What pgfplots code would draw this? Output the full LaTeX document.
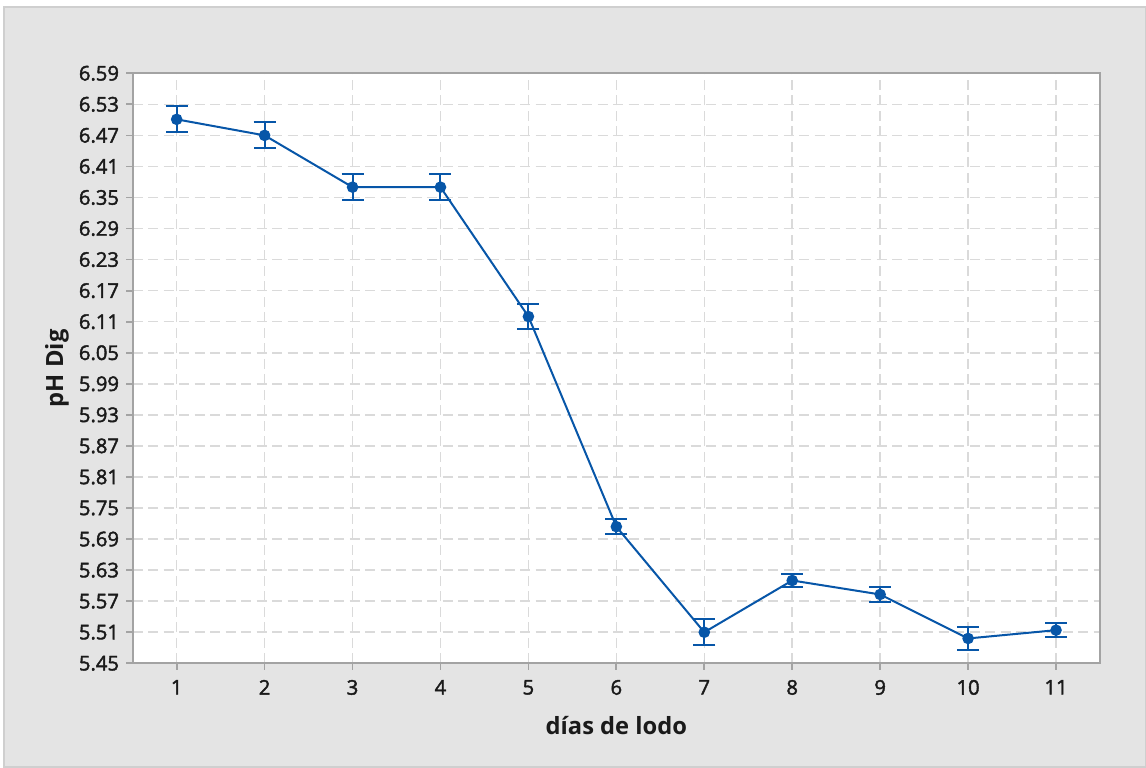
\documentclass[border=0pt]{standalone}
\usepackage{fontspec}
\setmainfont{Open Sans}
\newfontfamily\tickfont{Open Sans}[FakeBold=2]
\usepackage{pgfplots}
\pgfplotsset{compat=1.18}
\definecolor{panel}{HTML}{E4E4E4}
\definecolor{panelrim}{HTML}{CFCFCF}
\definecolor{frame}{HTML}{A3A3A3}
\definecolor{gridc}{HTML}{DADADA}
\definecolor{mtblue}{HTML}{0756A8}
\definecolor{ink}{HTML}{1A1A1A}

% day, mean pH, half-width of interval
\pgfplotstableread{
x  y      e
1  6.501  0.025
2  6.470  0.025
3  6.370  0.025
4  6.370  0.025
5  6.120  0.0235
6  5.714  0.014
7  5.510  0.025
8  5.610  0.013
9  5.583  0.014
10 5.498  0.023
11 5.514  0.013
}\phdata

\begin{document}
\begin{tikzpicture}
\fill[white] (0,0) rectangle (229.2mm,153.6mm);
\fill[panel, draw=panelrim, line width=0.3mm] (0.75mm,0.15mm) rectangle (229.05mm,152.2mm);
\begin{axis}[
  at={(26.54mm,20.94mm)}, anchor=south west,
  scale only axis,
  width=193.46mm, height=118mm,
  xmin=0.5, xmax=11.5,
  ymin=5.45, ymax=6.59,
  xtick={1,...,11},
  ytick={5.45,5.51,5.57,5.63,5.69,5.75,5.81,5.87,5.93,5.99,6.05,6.11,6.17,6.23,6.29,6.35,6.41,6.47,6.53,6.59},
  yticklabel style={/pgf/number format/fixed, /pgf/number format/fixed zerofill, /pgf/number format/precision=2, xshift=-0.2mm},
  /pgf/number format/assume math mode=true,
  tick label style={font=\tickfont\fontsize{11.5}{13}\selectfont, color=ink},
  xtick pos=bottom, ytick pos=left,
  tick align=outside,
  major tick length=1.3mm,
  tick style={color=frame, line width=0.35mm},
  xticklabel style={yshift=-0.8mm},
  axis line style={color=frame, line width=0.45mm},
  axis background/.style={fill=white},
  grid=major,
  major grid style={color=gridc, line width=0.3mm, dash pattern=on 2mm off 1.1mm},
  xlabel={días de lodo},
  ylabel={pH Dig},
  label style={font=\fontsize{13.5}{16}\selectfont\bfseries, color=ink},
  xlabel style={at={(axis description cs:0.5,-0.105)}, anchor=center},
  ylabel style={at={(axis description cs:-0.0783,0.5)}, anchor=center},
]
\addplot[color=mtblue, line width=0.4mm, mark=*, mark size=0.95mm,
  error bars/.cd, y dir=both, y explicit,
  error bar style={line width=0.4mm, color=mtblue},
  error mark options={rotate=90, line width=0.4mm, mark size=2.2mm, color=mtblue}]
  table[x=x, y=y, y error=e] {\phdata};
\end{axis}
\end{tikzpicture}
\end{document}
